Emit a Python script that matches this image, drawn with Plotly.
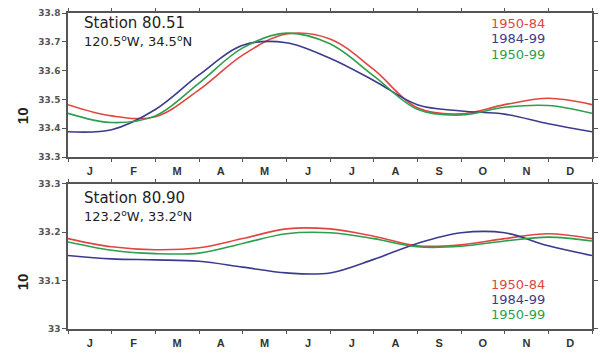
import plotly.graph_objects as go
from plotly.subplots import make_subplots

# Month boundaries (0 = start of Jan, 12 = end of Dec)
x_pts = [0, 1, 2, 3, 4, 5, 6, 7, 8, 9, 10, 11, 12]
months = ["J", "F", "M", "A", "M", "J", "J", "A", "S", "O", "N", "D"]

# Station 80.51
s1_1950_84 = [33.482, 33.443, 33.440, 33.533, 33.654, 33.727, 33.710, 33.604, 33.471, 33.450, 33.482, 33.504, 33.482]
s1_1984_99 = [33.388, 33.395, 33.465, 33.585, 33.688, 33.697, 33.643, 33.566, 33.482, 33.460, 33.449, 33.416, 33.388]
s1_1950_99 = [33.452, 33.420, 33.443, 33.557, 33.679, 33.730, 33.693, 33.582, 33.466, 33.446, 33.473, 33.479, 33.452]

# Station 80.90
s2_1950_84 = [33.187, 33.170, 33.164, 33.168, 33.187, 33.207, 33.207, 33.192, 33.172, 33.174, 33.187, 33.197, 33.187]
s2_1984_99 = [33.152, 33.145, 33.143, 33.140, 33.128, 33.116, 33.116, 33.144, 33.177, 33.199, 33.199, 33.172, 33.152]
s2_1950_99 = [33.180, 33.163, 33.156, 33.157, 33.177, 33.197, 33.199, 33.187, 33.170, 33.171, 33.182, 33.190, 33.182]

series_names = ["1950-84", "1984-99", "1950-99"]
colors = ["#e2453f", "#3b3b8e", "#2c9e4c"]

fig = make_subplots(rows=2, cols=1, vertical_spacing=0.085)

for row, data in [(1, [s1_1950_84, s1_1984_99, s1_1950_99]), (2, [s2_1950_84, s2_1984_99, s2_1950_99])]:
    for name, col, ys in zip(series_names, colors, data):
        fig.add_trace(go.Scatter(x=x_pts, y=ys, mode="lines", name=name,
                                 line=dict(color=col, width=1.6, shape="spline", smoothing=1.0),
                                 showlegend=False, hoverinfo="skip"), row=row, col=1)

axis_line = "#555555"
xcommon = dict(range=[0, 12], tickmode="array", tickvals=[i + 0.5 for i in range(12)], ticktext=months,
               ticks="", showgrid=False, zeroline=False, showline=True, linecolor=axis_line, linewidth=1.5,
               mirror="ticks", ticklabelstandoff=3,
               minor=dict(tickmode="array", tickvals=list(range(13)), ticks="outside", ticklen=3,
                          tickcolor=axis_line, tickwidth=1, showgrid=False),
               tickfont=dict(family="Liberation Sans", size=11, color="#333333", weight="bold"))
fig.update_xaxes(**xcommon)

ycommon = dict(showgrid=False, zeroline=False, showline=True, linecolor=axis_line, linewidth=1.5,
               mirror="ticks", ticks="outside", ticklen=4, tickcolor=axis_line, tickwidth=1,
               tickfont=dict(family="DejaVu Sans", size=9, color="#555555", weight="bold"))
fig.update_yaxes(**ycommon)
fig.update_yaxes(range=[33.3, 33.8], tickvals=[33.3, 33.4, 33.5, 33.6, 33.7, 33.8],
                 ticktext=["33.3", "33.4", "33.5", "33.6", "33.7", "33.8"], row=1, col=1)
fig.update_yaxes(range=[33.0, 33.3], tickvals=[33.0, 33.1, 33.2, 33.3],
                 ticktext=["33", "33.1", "33.2", "33.3"], row=2, col=1)

fig.update_layout(width=603, height=354, margin=dict(l=68, r=5, t=13, b=12),
                  plot_bgcolor="white", paper_bgcolor="white", showlegend=False)
fig.update_layout(yaxis=dict(domain=[0.544, 1.0]), yaxis2=dict(domain=[0.0, 0.459]))

font = "DejaVu Sans"
ann = []
panels = [("x domain", "y domain", "Station 80.51", "120.5<sup>o</sup>W, 34.5<sup>o</sup>N", 0.93, 0.805,
           [0.925, 0.82, 0.715], 0.287),
          ("x2 domain", "y2 domain", "Station 80.90", "123.2<sup>o</sup>W, 33.2<sup>o</sup>N", 0.905, 0.782,
           [0.305, 0.201, 0.097], 0.325)]
for xr, yr, title, coords, yt, yc, legys, ytitle in panels:
    ann.append(dict(xref=xr, yref=yr, x=0.026, y=yt, text=title, showarrow=False, xanchor="left",
                    yanchor="middle", font=dict(family=font, size=15, color="#222222")))
    ann.append(dict(xref=xr, yref=yr, x=0.026, y=yc, text=coords, showarrow=False, xanchor="left",
                    yanchor="middle", font=dict(family=font, size=13, color="#222222")))
    for name, col, yy in zip(series_names, colors, legys):
        ann.append(dict(xref=xr, yref=yr, x=0.915, y=yy, text=name, showarrow=False, xanchor="right",
                        yanchor="middle", font=dict(family=font, size=13, color=col)))
    ann.append(dict(xref="paper", yref=yr, x=-0.087, y=ytitle, text="10", showarrow=False, textangle=-90,
                    xanchor="center", yanchor="middle",
                    font=dict(family="Liberation Sans", size=15, color="#222222", weight="bold")))
fig.update_layout(annotations=ann)

fig.write_html("out.html")
